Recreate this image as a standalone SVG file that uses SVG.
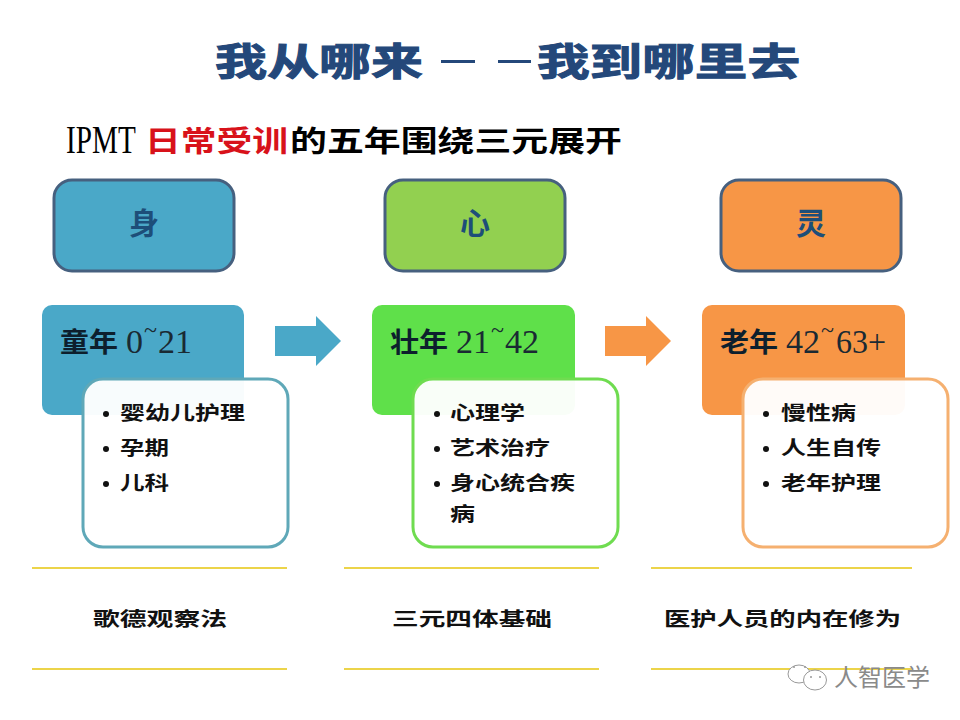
<svg xmlns="http://www.w3.org/2000/svg" width="960" height="720" viewBox="0 0 960 720">
<style>
.cjk{font-family:"Noto Sans CJK SC","Noto Sans CJK JP",sans-serif;font-weight:700}
.ser{font-family:"Liberation Serif",serif;font-weight:400}
.title{font-size:38px;fill:#24487a;stroke:#24487a;stroke-width:1px}
.sub{font-size:29px;fill:#000}
.head{font-size:30px;fill:#1d4e79}
.age{font-size:27px;fill:#0d1f2d}
.num{font-size:34px;fill:#1a2a33}
.tilde{font-size:24px;fill:#1a2a33}
.item{font-size:19px;fill:#111}
.foot{font-size:19px;fill:#111}
.top{stroke:#46607f;stroke-width:3}
.inner{fill:#fff;fill-opacity:.96;stroke-width:3}
.rule{stroke:#ecd44a;stroke-width:1.8}
.dot{fill:#111}
.wm{fill:#fff;stroke:#999;stroke-width:1}
</style>
<rect width="960" height="720" fill="#fff"/>
<g id="title">
<text class="cjk title" x="215" y="75" textLength="208" lengthAdjust="spacingAndGlyphs">我从哪来</text>
<rect x="441" y="60" width="34" height="3" fill="#24487a"/>
<rect x="498" y="60" width="33" height="3" fill="#24487a"/>
<text class="cjk title" x="537" y="75" textLength="263" lengthAdjust="spacingAndGlyphs">我到哪里去</text>
</g>
<g id="subtitle">
<text class="ser" transform="translate(66,153) scale(.73,1)" font-size="40">IPMT</text>
<text class="cjk sub" x="145" y="152" style="fill:#d8121a" textLength="143" lengthAdjust="spacingAndGlyphs">日常受训</text>
<text class="cjk sub" x="290" y="152" textLength="332" lengthAdjust="spacingAndGlyphs">的五年围绕三元展开</text>
</g>
<g id="connectors">
<polygon points="275,326 316,326 316,316 341,341 316,366 316,356 275,356" fill="#4aa8c8"/>
<polygon points="605,326 646,326 646,316 671,341 646,366 646,356 605,356" fill="#f79646"/>
</g>
<g id="node-shen">
<rect class="top" x="54" y="180" width="180" height="91" rx="18" fill="#4aa8c8"/>
<text class="cjk head" x="144" y="234" text-anchor="middle">身</text>
</g>
<g id="node-xin">
<rect class="top" x="385" y="180" width="180" height="91" rx="18" fill="#92d050"/>
<text class="cjk head" x="475" y="234" text-anchor="middle">心</text>
</g>
<g id="node-ling">
<rect class="top" x="721" y="180" width="180" height="91" rx="18" fill="#f79646"/>
<text class="cjk head" x="811" y="234" text-anchor="middle">灵</text>
</g>
<g id="node-child">
<rect x="42" y="305" width="202" height="110" rx="10" fill="#4aa8c8"/>
<text class="cjk age" x="60" y="352" textLength="58" lengthAdjust="spacingAndGlyphs">童年</text>
<text class="ser num" x="126" y="353">0</text>
<text class="ser tilde" x="144" y="338">~</text>
<text class="ser num" x="158" y="353">21</text>
<rect class="inner" x="83" y="379" width="205" height="168" rx="20" stroke="#5fa8b8"/>
<circle class="dot" cx="106" cy="414" r="3"/>
<text class="cjk item" x="120" y="420" textLength="125" lengthAdjust="spacingAndGlyphs">婴幼儿护理</text>
<circle class="dot" cx="106" cy="449" r="3"/>
<text class="cjk item" x="120" y="455" textLength="49" lengthAdjust="spacingAndGlyphs">孕期</text>
<circle class="dot" cx="106" cy="484" r="3"/>
<text class="cjk item" x="120" y="490" textLength="49" lengthAdjust="spacingAndGlyphs">儿科</text>
</g>
<g id="node-adult">
<rect x="372" y="305" width="203" height="110" rx="10" fill="#5fe04a"/>
<text class="cjk age" x="390" y="352" textLength="58" lengthAdjust="spacingAndGlyphs">壮年</text>
<text class="ser num" x="456" y="353">21</text>
<text class="ser tilde" x="491" y="338">~</text>
<text class="ser num" x="505" y="353">42</text>
<rect class="inner" x="413" y="379" width="205" height="168" rx="20" stroke="#6fdc50"/>
<circle class="dot" cx="437" cy="414" r="3"/>
<text class="cjk item" x="450" y="420" textLength="75" lengthAdjust="spacingAndGlyphs">心理学</text>
<circle class="dot" cx="437" cy="449" r="3"/>
<text class="cjk item" x="450" y="455" textLength="100" lengthAdjust="spacingAndGlyphs">艺术治疗</text>
<circle class="dot" cx="437" cy="484" r="3"/>
<text class="cjk item" x="450" y="490" textLength="125" lengthAdjust="spacingAndGlyphs">身心统合疾</text>
<text class="cjk item" x="450" y="521" textLength="25" lengthAdjust="spacingAndGlyphs">病</text>
</g>
<g id="node-old">
<rect x="702" y="305" width="203" height="110" rx="10" fill="#f79646"/>
<text class="cjk age" x="720" y="352" textLength="58" lengthAdjust="spacingAndGlyphs">老年</text>
<text class="ser num" x="786" y="353">42</text>
<text class="ser tilde" x="821" y="338">~</text>
<text class="ser num" x="836" y="353" textLength="50" lengthAdjust="spacingAndGlyphs">63+</text>
<rect class="inner" x="743" y="379" width="205" height="168" rx="20" stroke="#f5b070"/>
<circle class="dot" cx="766" cy="414" r="3"/>
<text class="cjk item" x="781" y="420" textLength="75" lengthAdjust="spacingAndGlyphs">慢性病</text>
<circle class="dot" cx="766" cy="449" r="3"/>
<text class="cjk item" x="781" y="455" textLength="100" lengthAdjust="spacingAndGlyphs">人生自传</text>
<circle class="dot" cx="766" cy="484" r="3"/>
<text class="cjk item" x="781" y="490" textLength="100" lengthAdjust="spacingAndGlyphs">老年护理</text>
</g>
<g id="footer">
<line class="rule" x1="32" y1="568" x2="287" y2="568"/>
<line class="rule" x1="32" y1="669" x2="287" y2="669"/>
<line class="rule" x1="344" y1="568" x2="599" y2="568"/>
<line class="rule" x1="344" y1="669" x2="599" y2="669"/>
<line class="rule" x1="651" y1="568" x2="912" y2="568"/>
<line class="rule" x1="651" y1="669" x2="912" y2="669"/>
<text class="cjk foot" x="93" y="626" textLength="134" lengthAdjust="spacingAndGlyphs">歌德观察法</text>
<text class="cjk foot" x="392" y="626" textLength="160" lengthAdjust="spacingAndGlyphs">三元四体基础</text>
<text class="cjk foot" x="664" y="626" textLength="237" lengthAdjust="spacingAndGlyphs">医护人员的内在修为</text>
</g>
<g id="watermark">
<ellipse class="wm" cx="799" cy="674" rx="11" ry="9"/>
<ellipse class="wm" cx="815" cy="680" rx="11.500" ry="10"/>
<circle cx="794" cy="667" r="1" fill="#999"/><circle cx="805" cy="667" r="1" fill="#999"/>
<circle cx="811" cy="677" r="1" fill="#999"/><circle cx="820" cy="677" r="1" fill="#999"/>
<text x="834" y="686" font-size="24" fill="#8a8a8a" font-family="'Noto Sans CJK SC',sans-serif">人智医学</text>
</g>
</svg>
